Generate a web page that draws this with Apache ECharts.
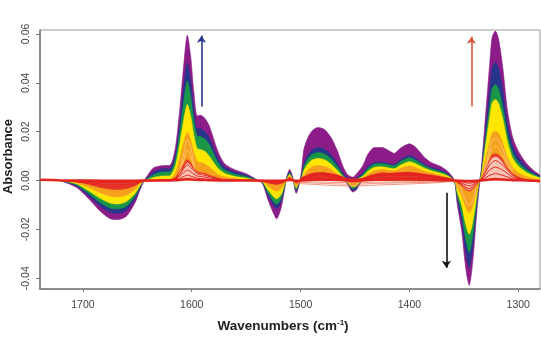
<!DOCTYPE html>
<html>
<head>
<meta charset="utf-8">
<style>
  html, body { margin: 0; padding: 0; background: #fff; }
  #chart { width: 541px; height: 358px; }
</style>
<script src="https://cdn.jsdelivr.net/npm/echarts@6/dist/echarts.min.js"></script>
</head>
<body>
<div id="chart"></div>
<script>
// wavenumbers shared by the coloured envelopes
const wn = [
  1739,1722,1706,1694,1684,1675,1668,1660,1652,1648,
  1644,1640,1635,1628,1620,1615,1611,1608,1604,1601,
  1598,1595,1592,1588,1584,1576,1570,1561,1550,1540,
  1535,1530,1525,1522,1518,1515,1513,1510,1507,1504,
  1501,1499,1497,1493,1489,1484,1478,1472,1466,1461,
  1457,1452,1449,1443,1438,1432,1425,1418,1414,1408,
  1400,1394,1386,1380,1371,1365,1360,1358,1356,1352,
  1349,1347,1345,1343,1341,1338,1336,1334,1331,1326,
  1324,1321,1318,1314,1310,1305,1299,1292,1285,1280
]
const purple = [
  .0004,.0000,-.0028,-.0078,-.0126,-.0156,-.0160,-.0146,-.0090,-.0044,
  -.0003,.0025,.0052,.0060,.0062,.0135,.0290,.0440,.0595,.0510,
  .0360,.0265,.0267,.0255,.0225,.0120,.0070,.0045,.0028,.0003,
  -.0012,-.0078,-.0133,-.0157,-.0115,-.0045,.0010,.0045,.0011,-.0053,
  -.0012,.0045,.0127,.0178,.0205,.0217,.0209,.0176,.0120,.0057,
  .0025,.0014,.0025,.0059,.0108,.0135,.0135,.0120,.0111,.0133,
  .0150,.0135,.0094,.0074,.0057,.0038,.0012,-.0016,-.0098,-.0205,
  -.0330,-.0395,-.0429,-.0380,-.0295,-.0125,-.0035,.0045,.0210,.0490,
  .0586,.0612,.0578,.0455,.0290,.0175,.0113,.0068,.0038,.0023
]
const navy = [
  .0004,.0000,-.0022,-.0065,-.0105,-.0130,-.0135,-.0122,-.0075,-.0036,
  -.0002,.0015,.0036,.0047,.0049,.0105,.0232,.0360,.0480,.0410,
  .0290,.0212,.0212,.0200,.0175,.0094,.0056,.0036,.0022,.0002,
  -.0009,-.0060,-.0100,-.0116,-.0088,-.0035,.0006,.0035,.0007,-.0044,
  -.0009,.0022,.0068,.0105,.0126,.0135,.0128,.0105,.0068,.0030,
  .0010,.0000,.0008,.0030,.0058,.0073,.0075,.0068,.0066,.0085,
  .0102,.0090,.0066,.0054,.0042,.0028,.0008,-.0012,-.0075,-.0165,
  -.0270,-.0325,-.0357,-.0315,-.0240,-.0100,-.0012,.0035,.0165,.0385,
  .0462,.0484,.0458,.0365,.0235,.0140,.0090,.0054,.0030,.0018
]
const green = [
  .0003,.0000,-.0018,-.0055,-.0090,-.0112,-.0116,-.0105,-.0064,-.0030,
  -.0002,.0010,.0024,.0034,.0036,.0085,.0195,.0300,.0407,.0345,
  .0245,.0182,.0180,.0170,.0148,.0074,.0044,.0027,.0016,.0001,
  -.0007,-.0050,-.0085,-.0098,-.0075,-.0030,.0004,.0030,.0005,-.0037,
  -.0007,.0016,.0055,.0090,.0108,.0115,.0109,.0088,.0055,.0022,
  .0006,.0000,.0005,.0024,.0050,.0067,.0070,.0063,.0060,.0078,
  .0093,.0082,.0060,.0048,.0036,.0024,.0006,-.0010,-.0062,-.0135,
  -.0222,-.0268,-.0295,-.0260,-.0198,-.0083,-.0010,.0028,.0135,.0312,
  .0375,.0393,.0372,.0296,.0192,.0112,.0070,.0042,.0024,.0014
]
const yellow = [
  .0002,.0000,-.0013,-.0044,-.0073,-.0092,-.0096,-.0086,-.0052,-.0024,
  -.0001,.0004,.0012,.0018,.0020,.0060,.0150,.0230,.0311,.0265,
  .0185,.0130,.0127,.0120,.0100,.0050,.0030,.0017,.0009,.0000,
  -.0005,-.0038,-.0065,-.0075,-.0058,-.0022,.0003,.0024,.0003,-.0030,
  -.0005,.0010,.0040,.0070,.0085,.0090,.0085,.0067,.0040,.0015,
  .0004,.0000,.0003,.0016,.0038,.0054,.0056,.0050,.0048,.0063,
  .0077,.0068,.0050,.0040,.0029,.0019,.0004,-.0008,-.0048,-.0100,
  -.0165,-.0200,-.0220,-.0195,-.0148,-.0062,-.0008,.0020,.0112,.0265,
  .0318,.0332,.0315,.0250,.0160,.0090,.0055,.0032,.0018,.0010
]
const orange = [
  .0001,.0000,-.0009,-.0030,-.0050,-.0064,-.0067,-.0060,-.0036,-.0016,
  -.0001,.0001,.0003,.0005,.0006,.0030,.0090,.0145,.0198,.0165,
  .0115,.0078,.0074,.0068,.0055,.0025,.0015,.0008,.0003,.0000,
  -.0003,-.0022,-.0038,-.0044,-.0034,-.0014,.0002,.0018,.0002,-.0023,
  -.0003,.0005,.0022,.0044,.0056,.0061,.0057,.0045,.0025,.0008,
  .0002,.0000,.0002,.0010,.0026,.0040,.0045,.0041,.0040,.0050,
  .0059,.0052,.0038,.0031,.0021,.0012,.0002,-.0005,-.0028,-.0060,
  -.0100,-.0121,-.0133,-.0120,-.0092,-.0040,-.0006,.0012,.0070,.0162,
  .0193,.0202,.0192,.0150,.0095,.0052,.0030,.0015,.0006,.0002
]
const red = [
  .0001,.0000,-.0005,-.0016,-.0028,-.0035,-.0037,-.0033,-.0020,-.0009,
  -.0002,-.0002,.0000,.0002,.0003,.0012,.0040,.0062,.0086,.0072,
  .0050,.0036,.0033,.0030,.0022,.0010,.0004,.0002,.0002,-.0001,
  -.0002,-.0009,-.0014,-.0016,-.0012,-.0006,.0001,.0012,.0002,-.0010,
  -.0002,.0002,.0010,.0024,.0030,.0033,.0032,.0026,.0016,.0006,
  .0000,-.0002,.0000,.0006,.0016,.0025,.0032,.0030,.0030,.0032,
  .0034,.0030,.0024,.0020,.0012,.0006,.0000,-.0001,-.0008,-.0020,
  -.0034,-.0040,-.0044,-.0040,-.0030,-.0014,-.0002,.0006,.0035,.0088,
  .0105,.0110,.0104,.0082,.0052,.0028,.0012,.0002,-.0003,-.0006
]

// the small trough near 1452, it sits under the positive lobes
const dipWn = [1459,1456,1452,1449,1446,1443]
const dipPurple = [0,-.0022,-.0047,-.0040,-.0018,0]
const dipNavy = [0,-.0019,-.0041,-.0035,-.0015,0]
const dipGreen = [0,-.0015,-.0034,-.0029,-.0012,0]
const dipYellow = [0,-.0012,-.0026,-.0022,-.0009,0]
const dipOrange = [0,-.0007,-.0016,-.0013,-.0005,0]
const dipRed = [0,-.0003,-.0007,-.0006,-.0002,0]

// pale patches under the hatching of thin spectra at the big peaks
const patchLeftWn = [1614,1610,1607,1604,1601,1598,1594,1590,1584,1576]
const patchLeft = [.0002,.0026,.0050,.0072,.0060,.0040,.0028,.0026,.0017,.0004]
const patchRightWn = [1334,1331,1328,1326,1324,1321,1318,1314,1310,1305,1300]
const patchRight = [.0002,.0028,.0058,.0076,.0090,.0096,.0090,.0070,.0044,.0022,.0006]
const patchDownWn = [1355,1352,1349,1347,1345,1343,1341,1338,1336]
const patchDown = [-.0002,-.0015,-.0028,-.0034,-.0038,-.0034,-.0025,-.0010,-.0001]

// thin red spectra inside the red zone
const thinWn = [
  1739,1722,1694,1675,1660,1644,1628,1615,1608,1604,
  1601,1595,1592,1584,1570,1540,1525,1522,1515,1510,
  1504,1497,1484,1466,1452,1432,1400,1371,1358,1352,
  1345,1338,1334,1326,1321,1314,1305,1292,1280
]
const thin1 = [
  0,0,-.0012,-.0027,-.0025,-.0003,.0001,.0008,.0045,.0064,
  .0054,.0028,.0025,.0017,.0003,-.0001,-.0011,-.0012,-.0005,.0009,
  -.0007,.0007,.0026,.0012,-.0002,.0020,.0027,.0009,-.0001,-.0015,
  -.0033,-.0010,.0004,.0065,.0082,.0062,.0021,.0002,-.0004
]
const thin2 = [
  0,0,-.0008,-.0018,-.0017,-.0002,0,.0005,.0030,.0043,
  .0036,.0018,.0017,.0011,.0002,-.0001,-.0007,-.0008,-.0003,.0006,
  -.0005,.0004,.0019,.0009,-.0002,.0015,.0021,.0006,-.0001,-.0010,
  -.0022,-.0007,.0002,.0044,.0055,.0042,.0014,0,-.0003
]
const thin3 = [
  0,0,-.0004,-.0009,-.0008,-.0001,0,.0002,.0015,.0022,
  .0018,.0009,.0008,.0005,.0001,0,-.0003,-.0004,-.0002,.0003,
  -.0003,.0002,.0012,.0005,-.0001,.0009,.0014,.0003,0,-.0005,
  -.0011,-.0004,.0001,.0022,.0028,.0021,.0007,0,-.0002
]
const baseline = [
  .0003,.0001,0,-.0001,-.0001,0,0,.0001,.0004,.0006,
  .0005,.0002,.0002,.0001,0,0,-.0001,-.0001,0,.0002,
  -.0001,.0001,.0004,.0002,-.0001,.0003,.0005,.0001,0,-.0001,
  -.0002,-.0001,0,.0004,.0006,.0004,.0001,0,-.0002
]

// thick wavy red ridge over the middle lobes
const ridgeWn = [1500,1490,1478,1466,1455,1445,1432,1415,1400,1380,1360]
const ridge = [.0005,.0022,.0026,.0018,.0003,.0004,.0020,.0026,.0028,.0018,.0002]

// pale spectra below zero in the middle of the range
const lowWn = [1503,1484,1466,1452,1432,1400,1371,1358]
const lowA = [-.0012,-.0017,-.0021,-.0023,-.0019,-.0014,-.0008,-.0002]
const lowB = [-.0007,-.0011,-.0014,-.0016,-.0012,-.0009,-.0005,-.0001]
const lowC = [-.0004,-.0006,-.0008,-.0009,-.0007,-.0005,-.0002,0]

// lighter streaks seen inside the orange part of the big peaks
const streakLeftWn = [1612,1608,1604,1601,1597]
const streakLeftA = [.0018,.0098,.0168,.0135,.0045]
const streakLeftB = [.0014,.0072,.0125,.0100,.0036]
const streakRightWn = [1333,1329,1326,1324,1321,1318,1314,1310,1305]
const streakRightA = [.0012,.0075,.0138,.0165,.0172,.0163,.0128,.0080,.0042]
const streakRightB = [.0010,.0055,.0108,.0132,.0140,.0132,.0102,.0064,.0034]
const streakDownWn = [1356,1352,1349,1347,1345,1343,1341,1338]
const streakDown = [-.0016,-.0042,-.0076,-.0092,-.0102,-.0092,-.0070,-.0026]

const xTicks = [1700,1600,1500,1400,1300]
const yTicks = [-.04,-.02,0,.02,.04,.06]

// start and end of the three arrows, in axis units
const arrowBlue = [[1591,.0303],[1591,.0592]]
const arrowRed = [[1343,.0303],[1343,.0588]]
const arrowBlack = [[1366,-.0050],[1366,-.0357]]

const pairs = (xs, ys) => xs.map((x, i) => [x, ys[i]])

const band = (xs, ys, color, fill) => ({
  type: 'line',
  data: pairs(xs, ys),
  smooth: 0.25,
  showSymbol: false,
  silent: true,
  lineStyle: { width: 0.6, color: color },
  itemStyle: { color: color },
  areaStyle: { color: fill || color, opacity: 1 }
})
const thinLine = (xs, ys, color, width) => ({
  type: 'line',
  data: pairs(xs, ys),
  smooth: 0.25,
  showSymbol: false,
  silent: true,
  lineStyle: { width: width, color: color }
})
const arrow = (pts, color) => ({
  type: 'line',
  data: [],
  silent: true,
  markLine: {
    silent: true,
    animation: false,
    symbol: ['none', 'arrow'],
    symbolSize: 7,
    label: { show: false },
    lineStyle: { color: color, width: 1.6, type: 'solid' },
    data: [[{ coord: pts[0] }, { coord: pts[1] }]]
  }
})

const COL = {
  purple: '#8c1c87', navy: '#27358c', green: '#1a9648',
  yellow: '#ffe600', orange: '#f6a11e', red: '#e3231f',
  pale: '#e8402f', palest: '#f9c4b4', streak: '#fbcb80'
}

const chart = echarts.init(document.getElementById('chart'), null, { renderer: 'canvas' })
chart.setOption({
  animation: false,
  backgroundColor: '#fff',
  grid: { left: 40, right: 1, top: 30, bottom: 69, outerBoundsMode: 'none', show: true, borderColor: '#999', borderWidth: 1 },
  xAxis: {
    type: 'value',
    inverse: true,
    min: 1280,
    max: 1739.4,
    name: '{a|Wavenumbers (cm}{s|-1}{a|)}',
    nameLocation: 'middle',
    nameGap: 30,
    nameMoveOverlap: false,
    nameTextStyle: {
      padding: [0, 14, 0, 0],
      rich: {
        a: { fontFamily: 'Liberation Sans', fontWeight: 'bold', fontSize: 13.5, color: '#222' },
        s: { fontFamily: 'Liberation Sans', fontWeight: 'bold', fontSize: 8, color: '#222', verticalAlign: 'top', padding: [0, 0, 5, 0] }
      }
    },
    splitLine: { show: false },
    axisLine: { onZero: false, lineStyle: { color: '#777', width: 1.5 } },
    axisTick: { length: 3, lineStyle: { color: '#777' }, customValues: xTicks },
    axisLabel: {
      customValues: xTicks,
      fontFamily: 'Liberation Sans',
      fontSize: 10.5,
      color: '#444',
      margin: 11,
      formatter: v => String(v)
    }
  },
  yAxis: {
    type: 'value',
    min: -.0444,
    max: .0616,
    name: 'Absorbance',
    nameLocation: 'middle',
    nameGap: 25,
    nameMoveOverlap: false,
    nameTextStyle: { fontFamily: 'Liberation Sans', fontWeight: 'bold', fontSize: 13, color: '#222', padding: [0, 0, 0, 6] },
    splitLine: { show: false },
    axisLine: { onZero: false, lineStyle: { color: '#777', width: 1.5 } },
    axisTick: { length: 4, lineStyle: { color: '#777' }, customValues: yTicks },
    axisLabel: {
      customValues: yTicks,
      rotate: 90,
      fontFamily: 'Liberation Sans',
      fontSize: 10.5,
      color: '#444',
      margin: 8,
      formatter: v => v.toFixed(2)
    }
  },
  series: [
    band(wn, purple, COL.purple),
    band(dipWn, dipPurple, COL.purple),
    band(wn, navy, COL.navy),
    band(dipWn, dipNavy, COL.navy),
    band(wn, green, COL.green),
    band(dipWn, dipGreen, COL.green),
    band(wn, yellow, COL.yellow),
    band(dipWn, dipYellow, COL.yellow),
    band(wn, orange, COL.orange),
    band(dipWn, dipOrange, COL.orange),
    thinLine(streakLeftWn, streakLeftA, COL.streak, 0.8),
    thinLine(streakLeftWn, streakLeftB, COL.streak, 0.8),
    thinLine(streakRightWn, streakRightA, COL.streak, 0.8),
    thinLine(streakRightWn, streakRightB, COL.streak, 0.8),
    thinLine(streakDownWn, streakDown, COL.streak, 0.8),
    band(wn, red, COL.red, COL.pale),
    band(dipWn, dipRed, COL.red, COL.pale),
    band(patchLeftWn, patchLeft, COL.palest),
    band(patchRightWn, patchRight, COL.palest),
    band(patchDownWn, patchDown, COL.palest),
    thinLine(lowWn, lowA, '#ee7a5e', 0.8),
    thinLine(lowWn, lowB, '#ee7a5e', 0.8),
    thinLine(lowWn, lowC, '#ee7a5e', 0.8),
    thinLine(thinWn, thin1, COL.red, 1),
    thinLine(thinWn, thin2, COL.red, 1),
    thinLine(thinWn, thin3, COL.red, 1),
    thinLine(ridgeWn, ridge, COL.red, 2.6),
    thinLine(thinWn, baseline, COL.red, 2.4),
    arrow(arrowBlue, '#27358c'),
    arrow(arrowRed, '#d9583c'),
    arrow(arrowBlack, '#111')
  ]
})
window.onresize = () => { chart.resize() }
</script>
</body>
</html>
